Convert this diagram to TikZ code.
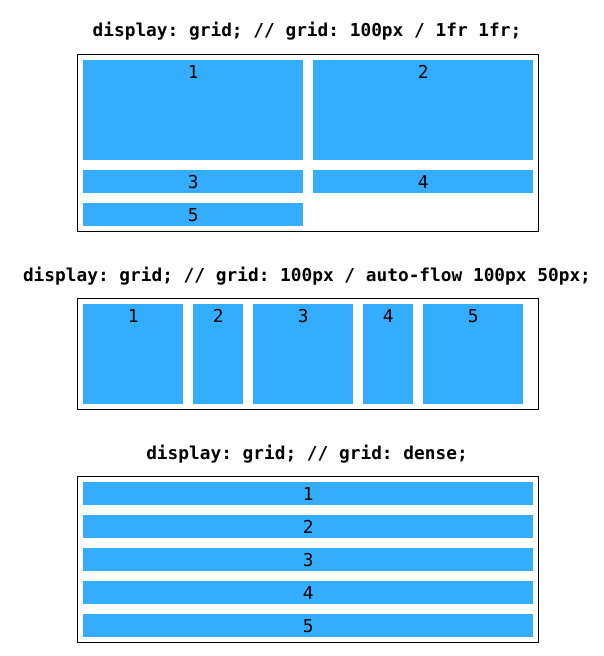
\documentclass[tikz,border=0pt]{standalone}
\usepackage{fontspec}
\setmonofont{DejaVu Sans Mono}
\definecolor{itemblue}{HTML}{35ADFF}
\tikzset{
  gridbox/.style={draw=black, line width=1.2pt, fill=white},
  item/.style={fill=itemblue, draw=none, inner sep=0pt, anchor=north west},
  num/.style={font=\ttfamily\fontsize{17.8}{20}\selectfont, anchor=base, inner sep=0pt},
  title/.style={font=\ttfamily\bfseries\fontsize{17.8}{20}\selectfont, anchor=base, inner sep=0pt}
}
\begin{document}
\begin{tikzpicture}[x=1pt,y=-1pt]
\useasboundingbox (0,0) rectangle (604,656);
% ---------- diagram 1 ----------
\node[title] (t1) at (307,36) {display: grid; // grid: 100px / 1fr 1fr;};
\draw[gridbox] (77.5,54.5) rectangle (538.5,231.5);
\node[item, minimum width=220pt, minimum height=100pt] (a1) at (83,60) {};
\node[item, minimum width=220pt, minimum height=100pt] (a2) at (313,60) {};
\node[item, minimum width=220pt, minimum height=23pt] (a3) at (83,170) {};
\node[item, minimum width=220pt, minimum height=23pt] (a4) at (313,170) {};
\node[item, minimum width=220pt, minimum height=23pt] (a5) at (83,203) {};
\path (a1.north) ++(0,18) node[num] (la1) {1};
\path (a2.north) ++(0,18) node[num] (la2) {2};
\path (a3.north) ++(0,18) node[num] (la3) {3};
\path (a4.north) ++(0,18) node[num] (la4) {4};
\path (a5.north) ++(0,18) node[num] (la5) {5};
% ---------- diagram 2 ----------
\node[title] (t2) at (307,281) {display: grid; // grid: 100px / auto-flow 100px 50px;};
\draw[gridbox] (77.5,298.5) rectangle (538.5,409.5);
\node[item, minimum width=100pt, minimum height=100pt] (b1) at (83,304) {};
\node[item, minimum width=50pt, minimum height=100pt] (b2) at (193,304) {};
\node[item, minimum width=100pt, minimum height=100pt] (b3) at (253,304) {};
\node[item, minimum width=50pt, minimum height=100pt] (b4) at (363,304) {};
\node[item, minimum width=100pt, minimum height=100pt] (b5) at (423,304) {};
\path (b1.north) ++(0,18) node[num] (lb1) {1};
\path (b2.north) ++(0,18) node[num] (lb2) {2};
\path (b3.north) ++(0,18) node[num] (lb3) {3};
\path (b4.north) ++(0,18) node[num] (lb4) {4};
\path (b5.north) ++(0,18) node[num] (lb5) {5};
% ---------- diagram 3 ----------
\node[title] (t3) at (307,459) {display: grid; // grid: dense;};
\draw[gridbox] (77.5,476.5) rectangle (538.5,642.5);
\node[item, minimum width=450pt, minimum height=23pt] (c1) at (83,482) {};
\node[item, minimum width=450pt, minimum height=23pt] (c2) at (83,515) {};
\node[item, minimum width=450pt, minimum height=23pt] (c3) at (83,548) {};
\node[item, minimum width=450pt, minimum height=23pt] (c4) at (83,581) {};
\node[item, minimum width=450pt, minimum height=23pt] (c5) at (83,614) {};
\path (c1.north) ++(0,18) node[num] (lc1) {1};
\path (c2.north) ++(0,18) node[num] (lc2) {2};
\path (c3.north) ++(0,18) node[num] (lc3) {3};
\path (c4.north) ++(0,18) node[num] (lc4) {4};
\path (c5.north) ++(0,18) node[num] (lc5) {5};
\end{tikzpicture}
\end{document}
